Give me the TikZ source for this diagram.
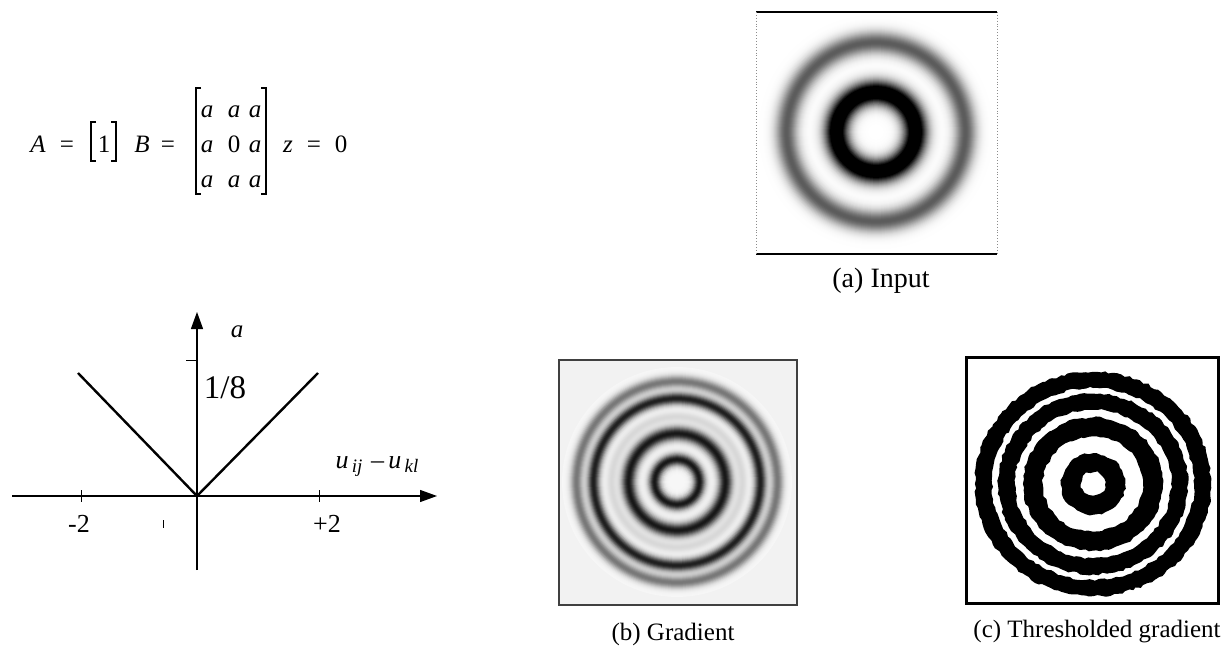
\documentclass[tikz,border=0pt]{standalone}
\usepackage{fontspec}
\setmainfont{Liberation Serif}
\usetikzlibrary{arrows.meta,decorations.pathmorphing}
\begin{document}
\begin{tikzpicture}[x=0.5pt,y=-0.5pt,
  axis/.style={line width=0.6pt,-{Triangle[length=8.5pt,width=6pt]}},
  vline/.style={line width=1.2pt},
  tickmark/.style={line width=0.5pt},
  lab/.style={inner sep=0pt,anchor=base},
  eqt/.style={lab,font=\fontsize{12.5}{15}\selectfont},
  gsmall/.style={lab,font=\fontsize{12.5}{15}\selectfont},
  gnum/.style={lab,font=\fontsize{13}{15}\selectfont},
  gbig/.style={lab,font=\fontsize{16.5}{19}\selectfont},
  capa/.style={lab,font=\fontsize{14}{16}\selectfont},
  capb/.style={lab,font=\fontsize{12.5}{15}\selectfont},
  brk/.style={line width=0.55pt},
  ringline/.style={line width=0.9pt},
  rough/.style={decorate,decoration={random steps,segment length=2pt,amplitude=0.6pt}}
]
\useasboundingbox (0,0) rectangle (1230,647);
\pgfmathsetseed{7}

% ---------------- equation ----------------
\node[eqt] (eA)  at (38,152)  {\textit{A}};
\node[eqt] (eq1) at (67,152)  {=};
\node[eqt] (one) at (104,152) {1};
\node[eqt] (eB)  at (142,152) {\textit{B}};
\node[eqt] (eq2) at (168,152) {=};
\node[eqt] (m11) at (207,118) {\textit{a}};
\node[eqt] (m12) at (234,118) {\textit{a}};
\node[eqt] (m13) at (255,118) {\textit{a}};
\node[eqt] (m21) at (207,152) {\textit{a}};
\node[eqt] (m22) at (234,152) {0};
\node[eqt] (m23) at (255,152) {\textit{a}};
\node[eqt] (m31) at (207,187) {\textit{a}};
\node[eqt] (m32) at (234,187) {\textit{a}};
\node[eqt] (m33) at (255,187) {\textit{a}};
\node[eqt] (ez)  at (288,152) {\textit{z}};
\node[eqt] (eq3) at (314,152) {=};
\node[eqt] (zero) at (341,152) {0};
% brackets
\draw[brk] (96,122) -- (91,122) -- (91,161) -- (96,161);
\draw[brk] (111,122) -- (116,122) -- (116,161) -- (111,161);
\draw[brk] (201,88) -- (196,88) -- (196,194) -- (201,194);
\draw[brk] (261,88) -- (266,88) -- (266,194) -- (261,194);

% ---------------- graph ----------------
\coordinate (O) at (197,496);
\coordinate (xl) at (12,496);
\coordinate (xr) at (437,496);
\coordinate (yb) at (197,570);
\coordinate (yt) at (197,312);
\coordinate (vl) at (78,373);
\coordinate (vr) at (318,373);
\draw[axis] (xl) -- (xr);
\draw[axis] (yb) -- (yt);
\draw[vline] (vl) -- (O) -- (vr);
\draw[tickmark] (81,490) -- (81,502);
\draw[tickmark] (319,490) -- (319,502);
\draw[tickmark] (186,360) -- (197,360);
\draw[tickmark] (163,520) -- (163,528);
\node[gsmall] (la) at (237,337) {\textit{a}};
\node[gbig] (l18) at (225,398) {1/8};
\node[gnum] (lm2) at (79,532) {-2};
\node[gnum] (lp2) at (327,532) {+2};
\node[gnum] (lu) at (377,468) {\textit{u}\raisebox{-0.35ex}{\fontsize{9.5}{11}\selectfont\,\textit{ij}}\,\,–\,\textit{u}\raisebox{-0.35ex}{\fontsize{9.5}{11}\selectfont\,\textit{kl}}};

% ---------------- image (a) ----------------
\begin{scope}
\clip (756,12) rectangle (997,254);
\foreach \rr in {118,117,...,1}{
  \pgfmathsetmacro\dd{min(100,130*exp(-((\rr-39)/12)^2)+64*exp(-((\rr-89)/11)^2))}
  \draw[ringline,black!\dd] (876,132) circle[radius=\rr];
}
\end{scope}
\draw[line width=1pt] (756,12) -- (997,12);
\draw[line width=1pt] (756,254) -- (997,254);
\draw[black!45,line width=0.45pt,densely dotted] (756,12) -- (756,254);
\draw[black!45,line width=0.45pt,densely dotted] (997,12) -- (997,254);
\node[capa] (capa) at (881,287) {(a) Input};

% ---------------- image (b) ----------------
\fill[black!5] (559,360) rectangle (797,605);
\begin{scope}
\clip (559,360) rectangle (797,605);
\foreach \rr in {114,113,...,1}{
  \pgfmathsetmacro\dd{min(100,3+88*exp(-((\rr-22)/6)^2)+88*exp(-((\rr-48)/7)^2)+12*exp(-((\rr-65)/5)^2)+85*exp(-((\rr-83)/6)^2)+50*exp(-((\rr-100)/6)^2))}
  \draw[ringline,black!\dd] (677,482) circle[radius=\rr];
}
\end{scope}
\draw[black!75,line width=0.7pt] (559,360) rectangle (797,605);
\node[capb] (capb) at (673,640) {(b) Gradient};

% ---------------- image (c) ----------------
\begin{scope}[shift={(1093,484)},yscale=0.95]
\fill[black,even odd rule,rough] (0,0) circle[radius=118] (0,0) circle[radius=101];
\fill[black,even odd rule,rough] (0,0) circle[radius=95] (0,0) circle[radius=78];
\fill[black,even odd rule,rough] (0,0) circle[radius=70] (0,0) circle[radius=50];
\fill[black,even odd rule,rough] (0,0) circle[radius=32] (0,0) circle[radius=12];
\end{scope}
\draw[line width=1.5pt] (966,357) rectangle (1218,603);
\node[capb] (capc) at (1097,637) {(c) Thresholded gradient};
\end{tikzpicture}
\end{document}
